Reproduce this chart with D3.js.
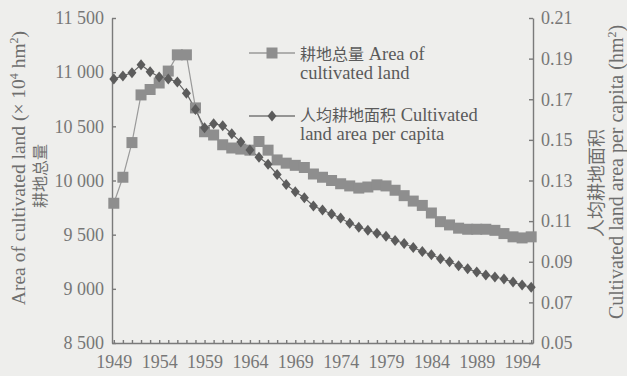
<!DOCTYPE html>
<html>
<head>
<meta charset="utf-8">
<script src="https://cdn.jsdelivr.net/npm/d3@7"></script>
<style>
  html, body { margin: 0; padding: 0; background: #eeeeec; }
  svg { display: block; }
  text { font-family: "Liberation Serif", "Times New Roman", serif; fill: #6e6e6e; }
  .cjk { font-family: "Noto Sans CJK SC", sans-serif; }
  .axis path, .axis line { stroke: #7a7a7a; stroke-width: 1.4; }
  .axis text { font-size: 18px; fill: #777; }
  .legend text { fill: #5a5a5a; }
</style>
</head>
<body>
<svg id="chart" width="627" height="376"></svg>
<script>
/* Cultivated land total (left) and per capita (right), 1949–1995 */

var years = [1949, 1950, 1951, 1952, 1953, 1954, 1955, 1956, 1957, 1958,
  1959, 1960, 1961, 1962, 1963, 1964, 1965, 1966, 1967, 1968,
  1969, 1970, 1971, 1972, 1973, 1974, 1975, 1976, 1977, 1978,
  1979, 1980, 1981, 1982, 1983, 1984, 1985, 1986, 1987, 1988,
  1989, 1990, 1991, 1992, 1993, 1994, 1995];

// 耕地总量 (×10^4 hm²)
var cultivatedArea = [9790, 10030, 10350, 10790, 10840, 10900, 11010, 11160, 11160, 10670,
  10450, 10420, 10330, 10300, 10290, 10280, 10360, 10280, 10190, 10160,
  10140, 10120, 10060, 10030, 10000, 9970, 9950, 9930, 9940, 9960,
  9950, 9910, 9860, 9810, 9770, 9700, 9620, 9590, 9560, 9550,
  9550, 9550, 9540, 9510, 9480, 9470, 9480];

// 人均耕地面积 (hm²)
var perCapita = [0.180, 0.1815, 0.183, 0.187, 0.1835, 0.181, 0.180, 0.1785, 0.173, 0.165,
  0.156, 0.158, 0.157, 0.153, 0.149, 0.145, 0.1415, 0.138, 0.133, 0.128,
  0.1245, 0.1215, 0.1175, 0.1155, 0.1135, 0.1115, 0.109, 0.107, 0.1055, 0.104,
  0.1025, 0.1005, 0.099, 0.097, 0.095, 0.0935, 0.0915, 0.090, 0.088, 0.0865,
  0.085, 0.0835, 0.0825, 0.0815, 0.080, 0.0785, 0.0775];

var leftTicks = [8500, 9000, 9500, 10000, 10500, 11000, 11500];
var leftTickLabels = ["8 500", "9 000", "9 500", "10 000", "10 500", "11 000", "11 500"];
var rightTicks = [0.05, 0.07, 0.09, 0.11, 0.13, 0.15, 0.17, 0.19, 0.21];
var xLabelYears = [1949, 1954, 1959, 1964, 1969, 1974, 1979, 1984, 1989, 1994];

var svg = d3.select("#chart");

var x = d3.scaleLinear().domain([1948.8, 1995.2]).range([112, 533]);
var yL = d3.scaleLinear().domain([8500, 11500]).range([343, 18]);
var yR = d3.scaleLinear().domain([0.05, 0.21]).range([343, 18]);

// axes, ticks point inward
svg.append("g").attr("class", "axis")
  .attr("transform", "translate(0,343)")
  .call(d3.axisBottom(x).tickValues(years).tickSizeInner(-3).tickSizeOuter(0).tickPadding(8)
    .tickFormat(function (d) { return xLabelYears.indexOf(d) >= 0 ? String(d) : ""; }))
  .selectAll("text").attr("dy", "0.95em");

svg.append("g").attr("class", "axis")
  .attr("transform", "translate(112,0)")
  .call(d3.axisLeft(yL).tickValues(leftTicks).tickSizeInner(-4).tickSizeOuter(0).tickPadding(8)
    .tickFormat(function (d, i) { return leftTickLabels[i]; }));

svg.append("g").attr("class", "axis")
  .attr("transform", "translate(533,0)")
  .call(d3.axisRight(yR).tickValues(rightTicks).tickSizeInner(-4).tickSizeOuter(0).tickPadding(8)
    .tickFormat(d3.format(".2f")));

// series
var idx = d3.range(years.length);

svg.append("path").datum(idx)
  .attr("fill", "none").attr("stroke", "#9a9a9a").attr("stroke-width", 1.2)
  .attr("d", d3.line().x(function (i) { return x(years[i]); }).y(function (i) { return yL(cultivatedArea[i]); }));

svg.append("path").datum(idx)
  .attr("fill", "none").attr("stroke", "#666").attr("stroke-width", 1.2)
  .attr("d", d3.line().x(function (i) { return x(years[i]); }).y(function (i) { return yR(perCapita[i]); }));

svg.append("g").selectAll("rect").data(idx).enter().append("rect")
  .attr("x", function (i) { return x(years[i]) - 5.5; })
  .attr("y", function (i) { return yL(cultivatedArea[i]) - 5.5; })
  .attr("width", 11).attr("height", 11)
  .attr("fill", "#8e8e8e");

var diamond = "M0,-5.5L4.5,0L0,5.5L-4.5,0Z";
svg.append("g").selectAll("path").data(idx).enter().append("path")
  .attr("d", diamond)
  .attr("transform", function (i) { return "translate(" + x(years[i]) + "," + yR(perCapita[i]) + ")"; })
  .attr("fill", "#5c5c5c");

// legend
var lg = svg.append("g").attr("class", "legend");
lg.append("line").attr("x1", 249).attr("x2", 295).attr("y1", 53).attr("y2", 53)
  .attr("stroke", "#9a9a9a").attr("stroke-width", 1.4);
lg.append("rect").attr("x", 266.5).attr("y", 47.5).attr("width", 11).attr("height", 11).attr("fill", "#8e8e8e");
lg.append("line").attr("x1", 249).attr("x2", 295).attr("y1", 116).attr("y2", 116)
  .attr("stroke", "#777").attr("stroke-width", 1.4);
lg.append("path").attr("d", diamond).attr("transform", "translate(272,116)").attr("fill", "#5c5c5c");

var t1 = lg.append("text").attr("x", 300).attr("y", 60).attr("font-size", 18.5);
t1.append("tspan").attr("class", "cjk").attr("font-size", 16).text("耕地总量");
t1.append("tspan").text(" Area of");
lg.append("text").attr("x", 300).attr("y", 79).attr("font-size", 18.5).text("cultivated land");

var t2 = lg.append("text").attr("x", 300).attr("y", 121).attr("font-size", 18.5);
t2.append("tspan").attr("class", "cjk").attr("font-size", 16).text("人均耕地面积");
t2.append("tspan").text(" Cultivated");
lg.append("text").attr("x", 300).attr("y", 140).attr("font-size", 18.5).text("land area per capita");

// axis titles
var lt = svg.append("text").attr("transform", "translate(25,168) rotate(-90)")
  .attr("text-anchor", "middle").attr("font-size", 19.5).attr("fill", "#777");
lt.append("tspan").text("Area of cultivated land (× 10");
lt.append("tspan").attr("font-size", 12).attr("dy", -7).text("4");
lt.append("tspan").attr("dy", 7).text(" hm");
lt.append("tspan").attr("font-size", 12).attr("dy", -7).text("2");
lt.append("tspan").attr("dy", 7).text(")");

svg.append("text").attr("class", "cjk").attr("transform", "translate(46,176) rotate(-90)")
  .attr("text-anchor", "middle").attr("font-size", 16).attr("fill", "#777").text("耕地总量");

svg.append("text").attr("class", "cjk").attr("transform", "translate(603,183) rotate(-90)")
  .attr("text-anchor", "middle").attr("font-size", 18).attr("fill", "#777").text("人均耕地面积");

var rt = svg.append("text").attr("transform", "translate(623,172) rotate(-90)")
  .attr("text-anchor", "middle").attr("font-size", 20).attr("fill", "#777");
rt.append("tspan").text("Cultivated land area per capita (hm");
rt.append("tspan").attr("font-size", 12).attr("dy", -7).text("2");
rt.append("tspan").attr("dy", 7).text(")");
</script>
</body>
</html>
